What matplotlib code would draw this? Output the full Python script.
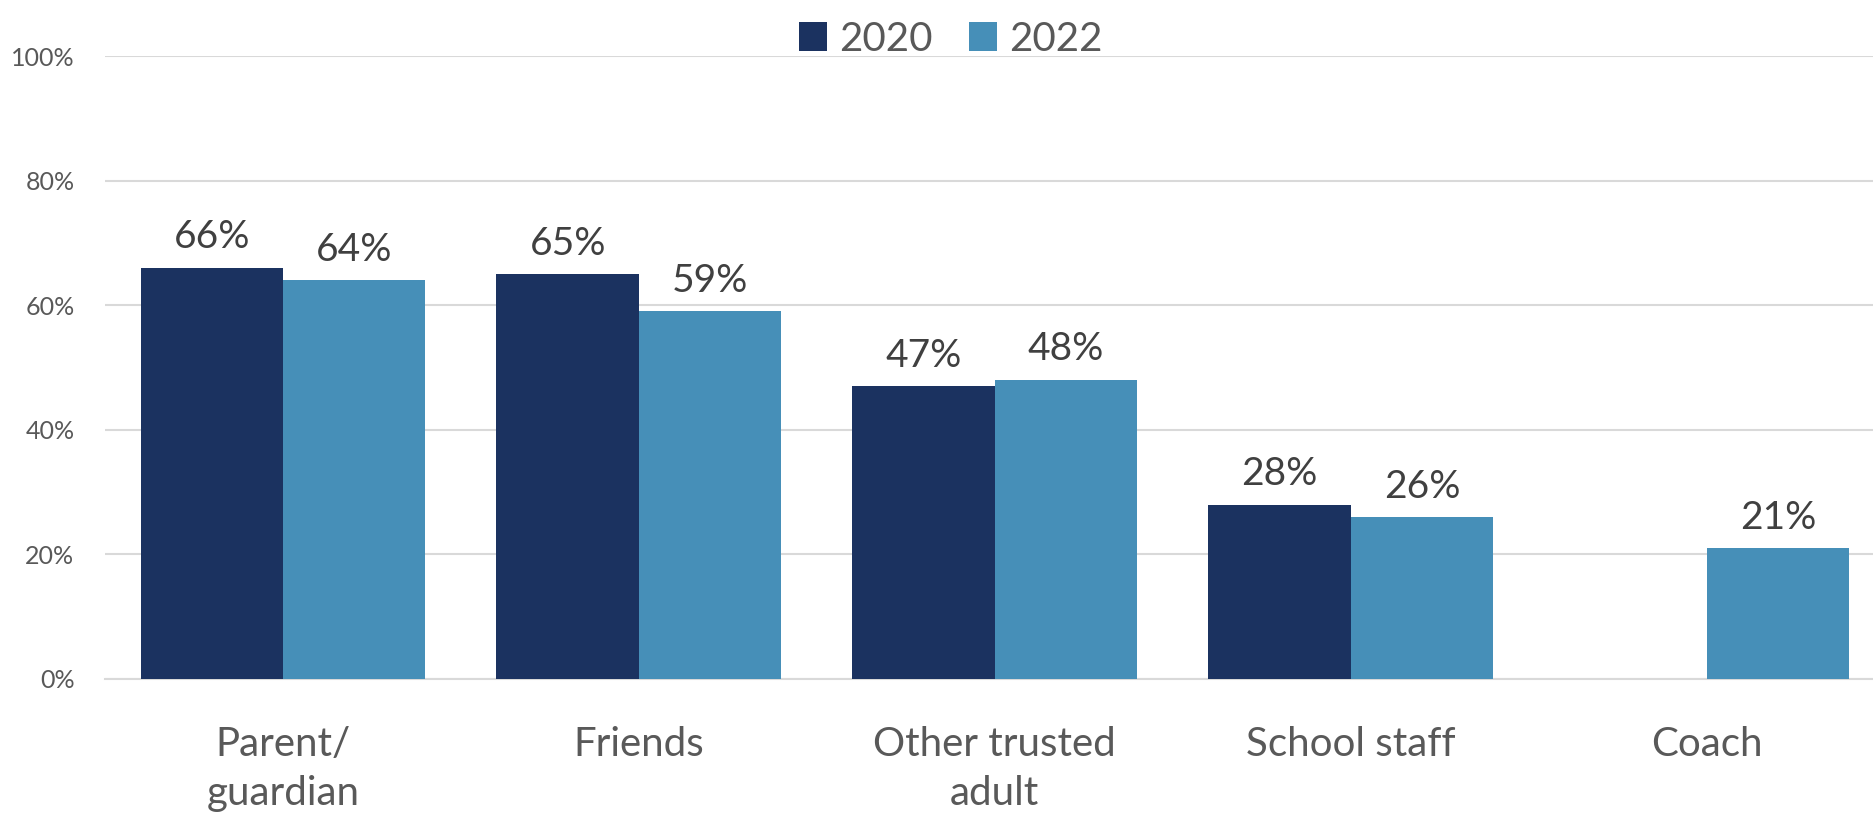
import matplotlib.pyplot as plt
from matplotlib.ticker import PercentFormatter
import numpy as np

plt.rcParams['font.family'] = ['Lato', 'DejaVu Sans']

categories = ['Parent/\nguardian', 'Friends', 'Other trusted\nadult', 'School staff', 'Coach']
vals_2020 = [66, 65, 47, 28, None]
vals_2022 = [64, 59, 48, 26, 21]
years = ['2020', '2022']
colors = ['#1B3260', '#468FB8']

fig = plt.figure(figsize=(18.74, 8.18), dpi=100)
ax = fig.add_axes([0.056, 0.17, 0.944, 0.7615])

x = np.arange(len(categories))
w = 0.4
for i, (vals, c, lab) in enumerate(zip([vals_2020, vals_2022], colors, years)):
    xs = [xi for xi, v in zip(x, vals) if v is not None]
    ys = [v for v in vals if v is not None]
    pos = np.array(xs) + (i - 0.5) * w
    bars = ax.bar(pos, ys, width=w, color=c, label=lab, zorder=3)
    for b, v in zip(bars, ys):
        ax.text(b.get_x() + b.get_width() / 2, v + 2.0, f'{v}%', ha='center', va='bottom',
                fontsize=28, color='#404040')

ax.set_ylim(0, 100)
ax.set_xlim(-0.5, 4.47)
ax.set_yticks(range(0, 101, 20))
ax.yaxis.set_major_formatter(PercentFormatter(decimals=0))
ax.grid(axis='y', color='#D9D9D9', linewidth=1.5, zorder=0)
ax.set_xticks(x)
ax.set_xticklabels(categories, fontsize=29, color='#595959', linespacing=1.4)
ax.tick_params(axis='x', length=0, pad=34)
ax.tick_params(axis='y', length=0, labelsize=18, labelcolor='#595959', pad=22)
for s in ['top', 'right', 'left']:
    ax.spines[s].set_visible(False)
ax.spines['bottom'].set_color('#D9D9D9')
ax.spines['bottom'].set_linewidth(1.5)

ax.legend(loc='upper center', bbox_to_anchor=(0.478, 1.115), ncol=2, frameon=False,
          fontsize=29, labelcolor='#595959', handlelength=0.7, handleheight=0.7,
          handletextpad=0.3, columnspacing=0.9)

fig.savefig('out.png', dpi=100)
